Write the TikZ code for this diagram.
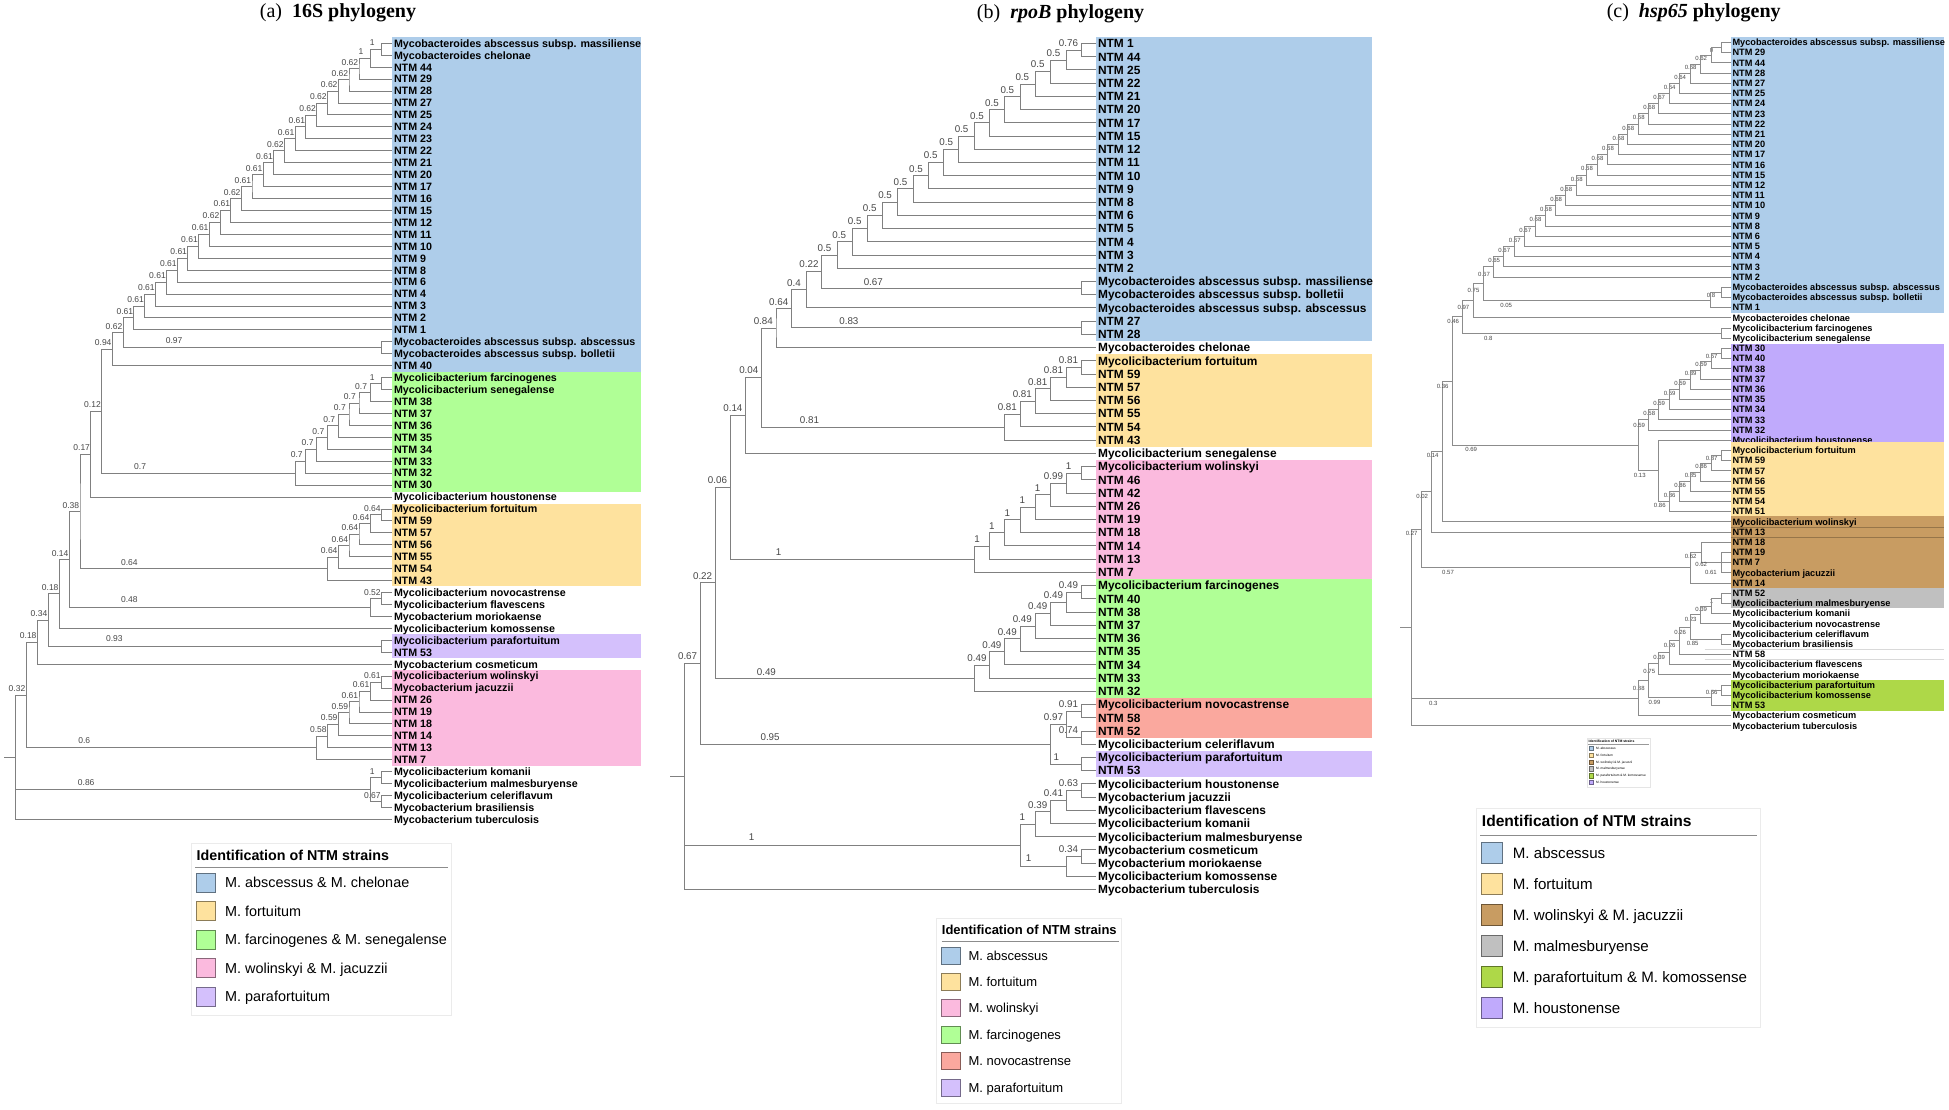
\documentclass[tikz,border=0pt]{standalone}
\usepackage{fontspec}
\setmainfont{Liberation Serif}
\newfontfamily\arial{Liberation Sans}
\usetikzlibrary{calc}
\definecolor{cblue}{RGB}{174,205,234}
\definecolor{cyel}{RGB}{254,226,158}
\definecolor{cgreen}{RGB}{176,255,150}
\definecolor{cpink}{RGB}{251,186,222}
\definecolor{cpurp}{RGB}{212,192,252}
\definecolor{csalm}{RGB}{250,168,158}
\definecolor{cbrown}{RGB}{200,156,98}
\definecolor{cgrey}{RGB}{192,192,192}
\definecolor{cygreen}{RGB}{174,216,72}
\definecolor{cpurpb}{RGB}{192,170,252}
\tikzset{
 bra/.style={draw=black!50, line width=0.9pt},
 brb/.style={draw=black!50, line width=0.9pt},
 brc/.style={draw=black!45, line width=0.6pt},
 lfta/.style={anchor=base west, inner sep=0pt, font=\fontsize{10.7}{12}\arial\bfseries},
 lftb/.style={anchor=base west, inner sep=0pt, font=\fontsize{11.9}{13}\arial\bfseries},
 lftc/.style={anchor=base west, inner sep=0pt, font=\fontsize{9.2}{10}\arial\bfseries},
 lba/.style={inner sep=0pt, font=\fontsize{8.5}{10}\arial, text=black!72},
 lbb/.style={inner sep=0pt, font=\fontsize{9.8}{11}\arial, text=black!72},
 lbc/.style={inner sep=0pt, font=\fontsize{6}{7}\arial, text=black!72},
 ttl/.style={inner sep=0pt, font=\fontsize{20}{24}\selectfont},
 legbox/.style={draw=black!8, fill=white, line width=0.6pt},
}
\newcommand\lfa[2]{\coordinate (la#1) at (391.7,{43.3+11.94*#1});\node[lfta] (ta#1) at (393.8,{47.15+11.94*#1}) {#2};}
\newcommand\lfb[2]{\coordinate (lb#1) at (1095.6,{43.5+13.22*#1});\node[lftb] (tb#1) at (1097.9,{47.8+13.22*#1}) {#2};}
\newcommand\lfc[2]{\coordinate (lc#1) at (1730.9,{42.3+10.2*#1});\node[lftc] (tc#1) at (1732.3,{45.6+10.2*#1}) {#2};}
\newcommand\nda[5]{\path let \p1=(#3),\p2=(#4) in coordinate (#1) at (#2pt,{(\y1+\y2)/2}) node[lba] (#1L) at ({#2pt-9.1pt},{(\y1+\y2)/2+6.4pt}) {#5};\draw[bra] (#3) -| (#1) |- (#4);}
\newcommand\ndb[5]{\path let \p1=(#3),\p2=(#4) in coordinate (#1) at (#2pt,{(\y1+\y2)/2}) node[lbb] (#1L) at ({#2pt-12.7pt},{(\y1+\y2)/2+7pt}) {#5};\draw[brb] (#3) -| (#1) |- (#4);}
\newcommand\ndc[5]{\path let \p1=(#3),\p2=(#4) in coordinate (#1) at (#2pt,{(\y1+\y2)/2}) node[lbc] (#1L) at ({#2pt+0.7pt},{(3*\y1+\y2)/4+1pt}) {#5};\draw[brc] (#3) -| (#1) |- (#4);}
\newcommand\ndt[6]{\path let \p1=(#4),\p2=(#6) in coordinate (#2) at (#3pt,{(\y1+\y2)/2});\draw[#1] (#4) -| (#2) |- (#6);\draw[#1] (#2 |- #5) -- (#5);}
\begin{document}
\begin{tikzpicture}[x=1pt,y=-1pt]
\useasboundingbox (0,0) rectangle (1949,1109);
\fill[white] (0,0) rectangle (1949,1109);
% ---------- titles
\node[ttl] (titA) at (338,13) {(a)\ \ \textbf{16S phylogeny}};
\node[ttl] (titB) at (1060.6,13.5) {(b)\ \ \textbf{\textit{rpoB}} \textbf{phylogeny}};
\node[ttl] (titC) at (1693.7,12.5) {(c)\ \ \textbf{\textit{hsp65}} \textbf{phylogeny}};
% ---------- boxes (a)
\fill[cblue] (391.7,37.3) rectangle (640.5,371.7);
\fill[cgreen] (391.7,371.7) rectangle (640.5,491.7);
\fill[cyel] (391.7,503.5) rectangle (640.5,586);
\fill[cpurp] (391.7,634) rectangle (640.5,657.7);
\fill[cpink] (391.7,669.7) rectangle (640.5,765.7);
% ---------- leaves (a)
\lfa{0}{Mycobacteroides abscessus subsp. massiliense}
\lfa{1}{Mycobacteroides chelonae}
\lfa{2}{NTM 44}\lfa{3}{NTM 29}\lfa{4}{NTM 28}\lfa{5}{NTM 27}\lfa{6}{NTM 25}
\lfa{7}{NTM 24}\lfa{8}{NTM 23}\lfa{9}{NTM 22}\lfa{10}{NTM 21}\lfa{11}{NTM 20}
\lfa{12}{NTM 17}\lfa{13}{NTM 16}\lfa{14}{NTM 15}\lfa{15}{NTM 12}\lfa{16}{NTM 11}
\lfa{17}{NTM 10}\lfa{18}{NTM 9}\lfa{19}{NTM 8}\lfa{20}{NTM 6}\lfa{21}{NTM 4}
\lfa{22}{NTM 3}\lfa{23}{NTM 2}\lfa{24}{NTM 1}
\lfa{25}{Mycobacteroides abscessus subsp. abscessus}
\lfa{26}{Mycobacteroides abscessus subsp. bolletii}
\lfa{27}{NTM 40}
\lfa{28}{Mycolicibacterium farcinogenes}
\lfa{29}{Mycolicibacterium senegalense}
\lfa{30}{NTM 38}\lfa{31}{NTM 37}\lfa{32}{NTM 36}\lfa{33}{NTM 35}\lfa{34}{NTM 34}
\lfa{35}{NTM 33}\lfa{36}{NTM 32}\lfa{37}{NTM 30}
\lfa{38}{Mycolicibacterium houstonense}
\lfa{39}{Mycolicibacterium fortuitum}
\lfa{40}{NTM 59}\lfa{41}{NTM 57}\lfa{42}{NTM 56}\lfa{43}{NTM 55}\lfa{44}{NTM 54}\lfa{45}{NTM 43}
\lfa{46}{Mycolicibacterium novocastrense}
\lfa{47}{Mycolicibacterium flavescens}
\lfa{48}{Mycobacterium moriokaense}
\lfa{49}{Mycolicibacterium komossense}
\lfa{50}{Mycolicibacterium parafortuitum}
\lfa{51}{NTM 53}
\lfa{52}{Mycobacterium cosmeticum}
\lfa{53}{Mycolicibacterium wolinskyi}
\lfa{54}{Mycobacterium jacuzzii}
\lfa{55}{NTM 26}\lfa{56}{NTM 19}\lfa{57}{NTM 18}\lfa{58}{NTM 14}\lfa{59}{NTM 13}\lfa{60}{NTM 7}
\lfa{61}{Mycolicibacterium komanii}
\lfa{62}{Mycolicibacterium malmesburyense}
\lfa{63}{Mycolicibacterium celeriflavum}
\lfa{64}{Mycobacterium brasiliensis}
\lfa{65}{Mycobacterium tuberculosis}
% ---------- tree (a)
\nda{aA1}{381.4}{la0}{la1}{1}
\nda{aA2}{370.2}{aA1}{la2}{1}
\nda{aA3}{359.0}{aA2}{la3}{0.62}
\nda{aA4}{349.0}{aA3}{la4}{0.62}
\nda{aA5}{338.3}{aA4}{la5}{0.62}
\nda{aA6}{327.5}{aA5}{la6}{0.62}
\nda{aA7}{316.7}{aA6}{la7}{0.62}
\nda{aA8}{305.9}{aA7}{la8}{0.61}
\nda{aA9}{295.2}{aA8}{la9}{0.61}
\nda{aA10}{284.4}{aA9}{la10}{0.62}
\nda{aA11}{273.6}{aA10}{la11}{0.61}
\nda{aA12}{263.2}{aA11}{la12}{0.61}
\nda{aA13}{252.0}{aA12}{la13}{0.61}
\nda{aA14}{241.3}{aA13}{la14}{0.62}
\nda{aA15}{230.9}{aA14}{la15}{0.61}
\nda{aA16}{220.1}{aA15}{la16}{0.62}
\nda{aA17}{209.3}{aA16}{la17}{0.61}
\nda{aA18}{198.6}{aA17}{la18}{0.61}
\nda{aA19}{187.8}{aA18}{la19}{0.61}
\nda{aA20}{177.4}{aA19}{la20}{0.61}
\nda{aA21}{166.6}{aA20}{la21}{0.61}
\nda{aA22}{155.5}{aA21}{la22}{0.61}
\nda{aA23}{144.7}{aA22}{la23}{0.61}
\nda{aA24}{133.9}{aA23}{la24}{0.61}
\nda{aAP}{381.4}{la25}{la26}{}
\nda{aA25}{123.1}{aA24}{aAP}{0.62}
\nda{aA26}{112.3}{aA25}{la27}{0.94}
\nda{aG1}{381.4}{la28}{la29}{1}
\nda{aG2}{370.2}{aG1}{la30}{0.7}
\nda{aG3}{359.0}{aG2}{la31}{0.7}
\nda{aG4}{349.0}{aG3}{la32}{0.7}
\nda{aG5}{338.3}{aG4}{la33}{0.7}
\nda{aG6}{327.5}{aG5}{la34}{0.7}
\nda{aG7}{316.7}{aG6}{la35}{0.7}
\nda{aG8}{305.9}{aG7}{la36}{0.7}
\nda{aG9}{295.2}{aG8}{la37}{}
\nda{aB012}{101.6}{aA26}{aG9}{0.12}
\nda{aB017}{90.8}{aB012}{la38}{0.17}
\nda{aO1}{381.4}{la39}{la40}{0.64}
\nda{aO2}{370.2}{aO1}{la41}{0.64}
\nda{aO3}{359.0}{aO2}{la42}{0.64}
\nda{aO4}{349.0}{aO3}{la43}{0.64}
\nda{aO5}{338.3}{aO4}{la44}{0.64}
\nda{aO6}{327.5}{aO5}{la45}{}
\nda{aB038}{80.0}{aB017}{aO6}{0.38}
\nda{aN1}{381.4}{la46}{la47}{0.52}
\nda{aN2}{370.2}{aN1}{la48}{}
\nda{aB014}{69.2}{aB038}{aN2}{0.14}
\nda{aB018}{59.3}{aB014}{la49}{0.18}
\nda{aPF}{381.4}{la50}{la51}{}
\nda{aB034}{48.1}{aB018}{aPF}{0.34}
\nda{aB018b}{37.3}{aB034}{la52}{0.18}
\nda{aK1}{381.4}{la53}{la54}{0.61}
\nda{aK2}{370.2}{aK1}{la55}{0.61}
\nda{aK3}{359.0}{aK2}{la56}{0.61}
\nda{aK4}{349.0}{aK3}{la57}{0.59}
\nda{aK5}{338.3}{aK4}{la58}{0.59}
\nda{aK6}{327.5}{aK5}{la59}{0.58}
\nda{aK7}{316.7}{aK6}{la60}{}
\nda{aB032}{26.1}{aB018b}{aK7}{0.32}
\nda{aM1}{381.4}{la61}{la62}{1}
\nda{aM2}{381.4}{la63}{la64}{0.67}
\nda{aM3}{370.2}{aM1}{aM2}{}
\ndt{bra}{aRA}{15.3}{aB032}{aM3}{la65}
\draw[bra] (aRA) -- ++(-11.2,0);
\node[lba] (xa1) at (174.1,341) {0.97};
\node[lba] (xa2) at (140.1,466.7) {0.7};
\node[lba] (xa3) at (129.3,562.7) {0.64};
\node[lba] (xa4) at (129.3,600) {0.48};
\node[lba] (xa5) at (114.4,639) {0.93};
\node[lba] (xa6) at (84.2,740.7) {0.6};
\node[lba] (xa7) at (86.2,782.7) {0.86};
% ---------- boxes (b)
\fill[cblue] (1095.6,36.9) rectangle (1371.9,341);
\fill[cyel] (1095.6,354.2) rectangle (1371.9,446.7);
\fill[cpink] (1095.6,459.9) rectangle (1371.9,578.9);
\fill[cgreen] (1095.6,578.9) rectangle (1371.9,697.9);
\fill[csalm] (1095.6,697.9) rectangle (1371.9,737.5);
\fill[cpurp] (1095.6,750.8) rectangle (1371.9,777.2);
% ---------- leaves (b)
\lfb{0}{NTM 1}\lfb{1}{NTM 44}\lfb{2}{NTM 25}\lfb{3}{NTM 22}\lfb{4}{NTM 21}
\lfb{5}{NTM 20}\lfb{6}{NTM 17}\lfb{7}{NTM 15}\lfb{8}{NTM 12}\lfb{9}{NTM 11}
\lfb{10}{NTM 10}\lfb{11}{NTM 9}\lfb{12}{NTM 8}\lfb{13}{NTM 6}\lfb{14}{NTM 5}
\lfb{15}{NTM 4}\lfb{16}{NTM 3}\lfb{17}{NTM 2}
\lfb{18}{Mycobacteroides abscessus subsp. massiliense}
\lfb{19}{Mycobacteroides abscessus subsp. bolletii}
\lfb{20}{Mycobacteroides abscessus subsp. abscessus}
\lfb{21}{NTM 27}\lfb{22}{NTM 28}
\lfb{23}{Mycobacteroides chelonae}
\lfb{24}{Mycolicibacterium fortuitum}
\lfb{25}{NTM 59}\lfb{26}{NTM 57}\lfb{27}{NTM 56}\lfb{28}{NTM 55}\lfb{29}{NTM 54}\lfb{30}{NTM 43}
\lfb{31}{Mycolicibacterium senegalense}
\lfb{32}{Mycolicibacterium wolinskyi}
\lfb{33}{NTM 46}\lfb{34}{NTM 42}\lfb{35}{NTM 26}\lfb{36}{NTM 19}\lfb{37}{NTM 18}
\lfb{38}{NTM 14}\lfb{39}{NTM 13}\lfb{40}{NTM 7}
\lfb{41}{Mycolicibacterium farcinogenes}
\lfb{42}{NTM 40}\lfb{43}{NTM 38}\lfb{44}{NTM 37}\lfb{45}{NTM 36}\lfb{46}{NTM 35}
\lfb{47}{NTM 34}\lfb{48}{NTM 33}\lfb{49}{NTM 32}
\lfb{50}{Mycolicibacterium novocastrense}
\lfb{51}{NTM 58}\lfb{52}{NTM 52}
\lfb{53}{Mycolicibacterium celeriflavum}
\lfb{54}{Mycolicibacterium parafortuitum}
\lfb{55}{NTM 53}
\lfb{56}{Mycolicibacterium houstonense}
\lfb{57}{Mycobacterium jacuzzii}
\lfb{58}{Mycolicibacterium flavescens}
\lfb{59}{Mycolicibacterium komanii}
\lfb{60}{Mycolicibacterium malmesburyense}
\lfb{61}{Mycobacterium cosmeticum}
\lfb{62}{Mycobacterium moriokaense}
\lfb{63}{Mycolicibacterium komossense}
\lfb{64}{Mycobacterium tuberculosis}
% ---------- tree (b)
\ndb{bQ1}{1081.2}{lb0}{lb1}{0.76}
\ndb{bQ2}{1066.2}{bQ1}{lb2}{0.5}
\ndb{bQ3}{1050.4}{bQ2}{lb3}{0.5}
\ndb{bQ4}{1035.0}{bQ3}{lb4}{0.5}
\ndb{bQ5}{1020.0}{bQ4}{lb5}{0.5}
\ndb{bQ6}{1004.6}{bQ5}{lb6}{0.5}
\ndb{bQ7}{989.7}{bQ6}{lb7}{0.5}
\ndb{bQ8}{974.3}{bQ7}{lb8}{0.5}
\ndb{bQ9}{958.9}{bQ8}{lb9}{0.5}
\ndb{bQ10}{943.5}{bQ9}{lb10}{0.5}
\ndb{bQ11}{928.6}{bQ10}{lb11}{0.5}
\ndb{bQ12}{913.2}{bQ11}{lb12}{0.5}
\ndb{bQ13}{897.8}{bQ12}{lb13}{0.5}
\ndb{bQ14}{882.4}{bQ13}{lb14}{0.5}
\ndb{bQ15}{867.4}{bQ14}{lb15}{0.5}
\ndb{bQ16}{852.0}{bQ15}{lb16}{0.5}
\ndb{bQ17}{837.1}{bQ16}{lb17}{0.5}
\ndb{bMA}{1081.2}{lb18}{lb19}{}
\ndb{bQ18}{821.7}{bQ17}{bMA}{0.22}
\ndb{bQ19}{806.7}{bQ18}{lb20}{0.4}
\ndb{bP27}{1081.2}{lb21}{lb22}{}
\ndb{bQ20}{791.4}{bQ19}{bP27}{0.64}
\ndb{bQ21}{776.0}{bQ20}{lb23}{0.84}
\ndb{bF1}{1081.2}{lb24}{lb25}{0.81}
\ndb{bF2}{1066.2}{bF1}{lb26}{0.81}
\ndb{bF3}{1050.4}{bF2}{lb27}{0.81}
\ndb{bF4}{1035.0}{bF3}{lb28}{0.81}
\ndb{bF5}{1020.0}{bF4}{lb29}{0.81}
\ndb{bF6}{1004.6}{bF5}{lb30}{}
\ndb{bQ004}{761.5}{bQ21}{bF6}{0.04}
\ndb{bQ014}{745.6}{bQ004}{lb31}{0.14}
\ndb{bW1}{1081.2}{lb32}{lb33}{1}
\ndb{bW2}{1066.2}{bW1}{lb34}{0.99}
\ndb{bW3}{1050.4}{bW2}{lb35}{1}
\ndb{bW4}{1035.0}{bW3}{lb36}{1}
\ndb{bW5}{1020.0}{bW4}{lb37}{1}
\ndb{bW6}{1004.6}{bW5}{lb38}{1}
\ndb{bW7}{989.7}{bW6}{lb39}{1}
\ndb{bW8}{974.3}{bW7}{lb40}{}
\ndb{bQ006}{730.2}{bQ014}{bW8}{0.06}
\ndb{bG1}{1081.2}{lb41}{lb42}{0.49}
\ndb{bG2}{1066.2}{bG1}{lb43}{0.49}
\ndb{bG3}{1050.4}{bG2}{lb44}{0.49}
\ndb{bG4}{1035.0}{bG3}{lb45}{0.49}
\ndb{bG5}{1020.0}{bG4}{lb46}{0.49}
\ndb{bG6}{1004.6}{bG5}{lb47}{0.49}
\ndb{bG7}{989.7}{bG6}{lb48}{0.49}
\ndb{bG8}{974.3}{bG7}{lb49}{}
\ndb{bQ022}{715.3}{bQ006}{bG8}{0.22}
\ndb{bN1}{1081.2}{lb50}{lb51}{0.91}
\ndb{bN2}{1081.2}{lb52}{lb53}{0.74}
\ndb{bN3}{1066.2}{bN1}{bN2}{0.97}
\ndb{bPf}{1081.2}{lb54}{lb55}{}
\ndb{bN4}{1050.4}{bN3}{bPf}{}
\ndb{bQ067}{700.3}{bQ022}{bN4}{0.67}
\ndb{bH1}{1081.2}{lb56}{lb57}{0.63}
\ndb{bH2}{1066.2}{bH1}{lb58}{0.41}
\ndb{bH3}{1050.4}{bH2}{lb59}{0.39}
\ndb{bH4}{1035.0}{bH3}{lb60}{1}
\ndb{bC1}{1081.2}{lb61}{lb62}{0.34}
\ndb{bC2}{1066.2}{bC1}{lb63}{}
\ndb{bH5}{1020.0}{bH4}{bC2}{}
\ndt{brb}{bRB}{684.9}{bQ067}{bH5}{lb64}
\draw[brb] (bRB) -- ++(-14.9,0);
\node[lbb] (xb1) at (873.3,281.7) {0.67};
\node[lbb] (xb2) at (848.9,321.3) {0.83};
\node[lbb] (xb3) at (809.5,420) {0.81};
\node[lbb] (xb4) at (778.7,552.3) {1};
\node[lbb] (xb5) at (766.4,671.7) {0.49};
\node[lbb] (xb6) at (770.1,736.7) {0.95};
\node[lbb] (xb7) at (1056.3,757.3) {1};
\node[lbb] (xb8) at (751.5,837.3) {1};
\node[lbb] (xb9) at (1028.6,858.3) {1};
% ---------- boxes (c)
\fill[cblue] (1730.9,37.3) rectangle (1943.8,312.6);
\fill[cpurpb] (1730.9,344) rectangle (1943.8,442.3);
\lfc{39}{Mycolicibacterium houstonense}
\fill[cyel] (1730.9,442.3) rectangle (1943.8,516);
\fill[cbrown] (1730.9,516) rectangle (1943.8,587.7);
\draw[cbrown!75!black, line width=0.5pt] (1730.9,526.8) -- (1943.8,526.8) (1730.9,537) -- (1943.8,537);
\fill[cgrey] (1730.9,587.7) rectangle (1943.8,608.3);
\draw[black!15, line width=0.5pt] (1704.6,649.3) -- (1943.8,649.3) (1704.6,659.3) -- (1943.8,659.3);
\fill[cygreen] (1730.9,680) rectangle (1943.8,710.7);
% ---------- leaves (c)
\lfc{0}{Mycobacteroides abscessus subsp. massiliense}
\lfc{1}{NTM 29}\lfc{2}{NTM 44}\lfc{3}{NTM 28}\lfc{4}{NTM 27}\lfc{5}{NTM 25}
\lfc{6}{NTM 24}\lfc{7}{NTM 23}\lfc{8}{NTM 22}\lfc{9}{NTM 21}\lfc{10}{NTM 20}
\lfc{11}{NTM 17}\lfc{12}{NTM 16}\lfc{13}{NTM 15}\lfc{14}{NTM 12}\lfc{15}{NTM 11}
\lfc{16}{NTM 10}\lfc{17}{NTM 9}\lfc{18}{NTM 8}\lfc{19}{NTM 6}\lfc{20}{NTM 5}
\lfc{21}{NTM 4}\lfc{22}{NTM 3}\lfc{23}{NTM 2}
\lfc{24}{Mycobacteroides abscessus subsp. abscessus}
\lfc{25}{Mycobacteroides abscessus subsp. bolletii}
\lfc{26}{NTM 1}
\lfc{27}{Mycobacteroides chelonae}
\lfc{28}{Mycolicibacterium farcinogenes}
\lfc{29}{Mycolicibacterium senegalense}
\lfc{30}{NTM 30}\lfc{31}{NTM 40}\lfc{32}{NTM 38}\lfc{33}{NTM 37}\lfc{34}{NTM 36}
\lfc{35}{NTM 35}\lfc{36}{NTM 34}\lfc{37}{NTM 33}\lfc{38}{NTM 32}
\lfc{40}{Mycolicibacterium fortuitum}
\lfc{41}{NTM 59}\lfc{42}{NTM 57}\lfc{43}{NTM 56}\lfc{44}{NTM 55}\lfc{45}{NTM 54}\lfc{46}{NTM 51}
\lfc{47}{Mycolicibacterium wolinskyi}
\lfc{48}{NTM 13}\lfc{49}{NTM 18}\lfc{50}{NTM 19}\lfc{51}{NTM 7}
\lfc{52}{Mycobacterium jacuzzii}
\lfc{53}{NTM 14}\lfc{54}{NTM 52}
\lfc{55}{Mycolicibacterium malmesburyense}
\lfc{56}{Mycolicibacterium komanii}
\lfc{57}{Mycolicibacterium novocastrense}
\lfc{58}{Mycolicibacterium celeriflavum}
\lfc{59}{Mycobacterium brasiliensis}
\lfc{60}{NTM 58}
\lfc{61}{Mycolicibacterium flavescens}
\lfc{62}{Mycobacterium moriokaense}
\lfc{63}{Mycolicibacterium parafortuitum}
\lfc{64}{Mycolicibacterium komossense}
\lfc{65}{NTM 53}
\lfc{66}{Mycobacterium cosmeticum}
\lfc{67}{Mycobacterium tuberculosis}
% ---------- tree (c)
\ndc{cC1}{1721.4}{lc0}{lc1}{}
\ndc{cC2}{1710.9}{cC1}{lc2}{0}
\ndc{cC3}{1700.4}{cC2}{lc3}{0.62}
\ndc{cC4}{1689.9}{cC3}{lc4}{0.68}
\ndc{cC5}{1679.4}{cC4}{lc5}{0.64}
\ndc{cC6}{1668.9}{cC5}{lc6}{0.64}
\ndc{cC7}{1658.4}{cC6}{lc7}{0.67}
\ndc{cC8}{1648.6}{cC7}{lc8}{0.68}
\ndc{cC9}{1638.1}{cC8}{lc9}{0.68}
\ndc{cC10}{1627.6}{cC9}{lc10}{0.68}
\ndc{cC11}{1617.8}{cC10}{lc11}{0.68}
\ndc{cC12}{1607.3}{cC11}{lc12}{0.68}
\ndc{cC13}{1596.8}{cC12}{lc13}{0.68}
\ndc{cC14}{1586.3}{cC13}{lc14}{0.68}
\ndc{cC15}{1576.1}{cC14}{lc15}{0.68}
\ndc{cC16}{1565.6}{cC15}{lc16}{0.68}
\ndc{cC17}{1555.5}{cC16}{lc17}{0.68}
\ndc{cC18}{1545.3}{cC17}{lc18}{0.68}
\ndc{cC19}{1534.8}{cC18}{lc19}{0.68}
\ndc{cC20}{1524.6}{cC19}{lc20}{0.67}
\ndc{cC21}{1514.1}{cC20}{lc21}{0.67}
\ndc{cC22}{1503.6}{cC21}{lc22}{0.67}
\ndc{cC23}{1493.5}{cC22}{lc23}{0.65}
\ndc{cAB1}{1721.4}{lc24}{lc25}{}
\ndc{cAB2}{1710.2}{cAB1}{lc26}{0.8}
\ndc{cC24}{1483.3}{cC23}{cAB2}{0.67}
\ndc{cC25}{1472.8}{cC24}{lc27}{0.75}
\ndc{cFS}{1721.4}{lc28}{lc29}{}
\ndc{cC26}{1462.7}{cC25}{cFS}{0.97}
\ndc{cP0}{1721.4}{lc30}{lc31}{}
\ndc{cP1}{1710.9}{cP0}{lc32}{0.57}
\ndc{cP2}{1700.4}{cP1}{lc33}{0.59}
\ndc{cP3}{1689.9}{cP2}{lc34}{0.39}
\ndc{cP4}{1679.4}{cP3}{lc35}{0.59}
\ndc{cP5}{1668.9}{cP4}{lc36}{0.59}
\ndc{cP6}{1658.4}{cP5}{lc37}{0.59}
\ndc{cP7}{1648.6}{cP6}{lc38}{0.58}
\ndc{cF0}{1721.4}{lc40}{lc41}{}
\ndc{cF1}{1710.9}{cF0}{lc42}{0.87}
\ndc{cF2}{1700.4}{cF1}{lc43}{0.86}
\ndc{cF3}{1689.9}{cF2}{lc44}{0.85}
\ndc{cF4}{1679.4}{cF3}{lc45}{0.86}
\ndc{cF5}{1668.9}{cF4}{lc46}{0.86}
\ndc{cF6}{1658.4}{lc39}{cF5}{}
\ndc{cQ}{1638.1}{cP7}{cF6}{}
\ndc{cC27}{1452.5}{cC26}{cQ}{}
\ndc{cN036}{1442.0}{cC27}{lc47}{}
\ndc{cN014}{1431.5}{cN036}{lc48}{}
\ndt{brc}{cB1}{1721.7}{lc50}{lc51}{lc52}
\ndc{cB2}{1701.7}{lc49}{cB1}{}
\ndc{cB3}{1690.0}{cB2}{lc53}{}
\ndc{cN002}{1421.7}{cN014}{cB3}{}
\ndc{cM1}{1721.4}{lc54}{lc55}{}
\ndc{cM2}{1710.9}{cM1}{lc56}{1}
\ndc{cM3}{1700.4}{cM2}{lc57}{0.39}
\ndc{cCB}{1721.4}{lc58}{lc59}{}
\ndc{cM4}{1689.9}{cM3}{cCB}{0.23}
\ndc{cM5}{1679.4}{cM4}{lc60}{0.26}
\ndc{cM6}{1668.9}{cM5}{lc61}{0.26}
\ndc{cM7}{1658.4}{cM6}{lc62}{0.39}
\ndc{cG1}{1721.4}{lc63}{lc64}{}
\ndc{cG2}{1710.9}{cG1}{lc65}{0.56}
\ndc{cM8}{1648.6}{cM7}{cG2}{0.75}
\ndc{cM9}{1638.1}{cM8}{lc66}{0.88}
\ndt{brc}{cRC}{1411.6}{cN002}{cM9}{lc67}
\draw[brc] (cRC) -- ++(-11.6,0);
\node[lbc] (xc1) at (1506.1,305) {0.05};
\node[lbc] (xc2) at (1488.2,338.3) {0.8};
\node[lbc] (xc3) at (1659.8,505.7) {0.86};
\node[lbc] (xc4) at (1639.1,425.3) {0.59};
\node[lbc] (xc5) at (1639.8,475) {0.13};
\node[lbc] (xc6) at (1453.2,321.7) {0.46};
\node[lbc] (xc7) at (1471.1,449.3) {0.69};
\node[lbc] (xc8) at (1442.7,386) {0.36};
\node[lbc] (xc9) at (1432.6,455.7) {0.14};
\node[lbc] (xc10) at (1690.6,556) {0.62};
\node[lbc] (xc11) at (1701.1,564.7) {0.62};
\node[lbc] (xc12) at (1710.9,572.3) {0.61};
\node[lbc] (xc13) at (1448,572) {0.57};
\node[lbc] (xc14) at (1422.1,496) {0.02};
\node[lbc] (xc15) at (1692.7,643.3) {0.85};
\node[lbc] (xc16) at (1654.5,702.3) {0.99};
\node[lbc] (xc17) at (1411.6,533.3) {0.27};
\node[lbc] (xc18) at (1433.3,703.3) {0.3};
% ---------- legend (a)
\draw[legbox] (191.7,843.3) rectangle (451.7,1015);
\node[anchor=base west, inner sep=0pt, font=\fontsize{14.3}{16}\arial\bfseries] (legAT) at (196.5,860.1) {Identification of NTM strains};
\draw[black!45, line width=0.8pt] (195,867.3) -- (448,867.3);
\foreach \i/\c/\t in {0/cblue/{M. abscessus \& M. chelonae},1/cyel/{M. fortuitum},2/cgreen/{M. farcinogenes \& M. senegalense},3/cpink/{M. wolinskyi \& M. jacuzzii},4/cpurp/{M. parafortuitum}}{
 \pgfmathsetmacro\yy{882.7+28.5*\i}
 \filldraw[fill=\c, draw=\c!55!black, line width=0.5pt] (196,{\yy-9.5}) rectangle (215.7,{\yy+9.5});
 \node[anchor=base west, inner sep=0pt, font=\fontsize{14.4}{16}\arial] (legA\i) at (225,{\yy+5.2}) {\t};
}
% ---------- legend (b)
\draw[legbox] (936.7,918.3) rectangle (1121.7,1103.3);
\node[anchor=base west, inner sep=0pt, font=\fontsize{13}{15}\arial\bfseries] (legBT) at (941.7,934.7) {Identification of NTM strains};
\draw[black!45, line width=0.8pt] (941.7,941.7) -- (1119.3,941.7);
\foreach \i/\c/\t in {0/cblue/{M. abscessus},1/cyel/{M. fortuitum},2/cpink/{M. wolinskyi},3/cgreen/{M. farcinogenes},4/csalm/{M. novocastrense},5/cpurp/{M. parafortuitum}}{
 \pgfmathsetmacro\yy{955.3+26.4*\i}
 \filldraw[fill=\c, draw=\c!55!black, line width=0.5pt] (941.7,{\yy-8.5}) rectangle (960,{\yy+8.5});
 \node[anchor=base west, inner sep=0pt, font=\fontsize{13}{15}\arial] (legB\i) at (968.3,{\yy+4.7}) {\t};
}
% ---------- legend (c) thumbnail
\draw[draw=black!10, fill=white, line width=0.4pt] (1586.7,738.3) rectangle (1650,786.7);
\node[anchor=base west, inner sep=0pt, font=\fontsize{3.4}{4}\arial\bfseries] (legTT) at (1588.5,742.6) {Identification of NTM strains};
\draw[black!40, line width=0.3pt] (1588,744.4) -- (1649,744.4);
\foreach \i/\c/\t in {0/cblue/{M. abscessus},1/cyel/{M. fortuitum},2/cbrown/{M. wolinskyi \& M. jacuzzii},3/cgrey/{M. malmesburyense},4/cygreen/{M. parafortuitum \& M. komossense},5/cpurpb/{M. houstonense}}{
 \pgfmathsetmacro\yy{748.3+6.8*\i}
 \filldraw[fill=\c, draw=\c!55!black, line width=0.2pt] (1589,{\yy-2.2}) rectangle (1593.3,{\yy+2.2});
 \node[anchor=base west, inner sep=0pt, font=\fontsize{3.2}{4}\arial] (legT\i) at (1596,{\yy+1.1}) {\t};
}
% ---------- legend (c)
\draw[legbox] (1476,808.3) rectangle (1760.7,1027.3);
\node[anchor=base west, inner sep=0pt, font=\fontsize{15.6}{18}\arial\bfseries] (legCT) at (1481.7,826.6) {Identification of NTM strains};
\draw[black!45, line width=0.8pt] (1480,835.7) -- (1757,835.7);
\foreach \i/\c/\t in {0/cblue/{M. abscessus},1/cyel/{M. fortuitum},2/cbrown/{M. wolinskyi \& M. jacuzzii},3/cgrey/{M. malmesburyense},4/cygreen/{M. parafortuitum \& M. komossense},5/cpurpb/{M. houstonense}}{
 \pgfmathsetmacro\yy{852.7+31.1*\i}
 \filldraw[fill=\c, draw=\c!55!black, line width=0.5pt] (1481,{\yy-10.5}) rectangle (1502.7,{\yy+10.5});
 \node[anchor=base west, inner sep=0pt, font=\fontsize{15.1}{17}\arial] (legC\i) at (1512.7,{\yy+5.4}) {\t};
}
\end{tikzpicture}
\end{document}
